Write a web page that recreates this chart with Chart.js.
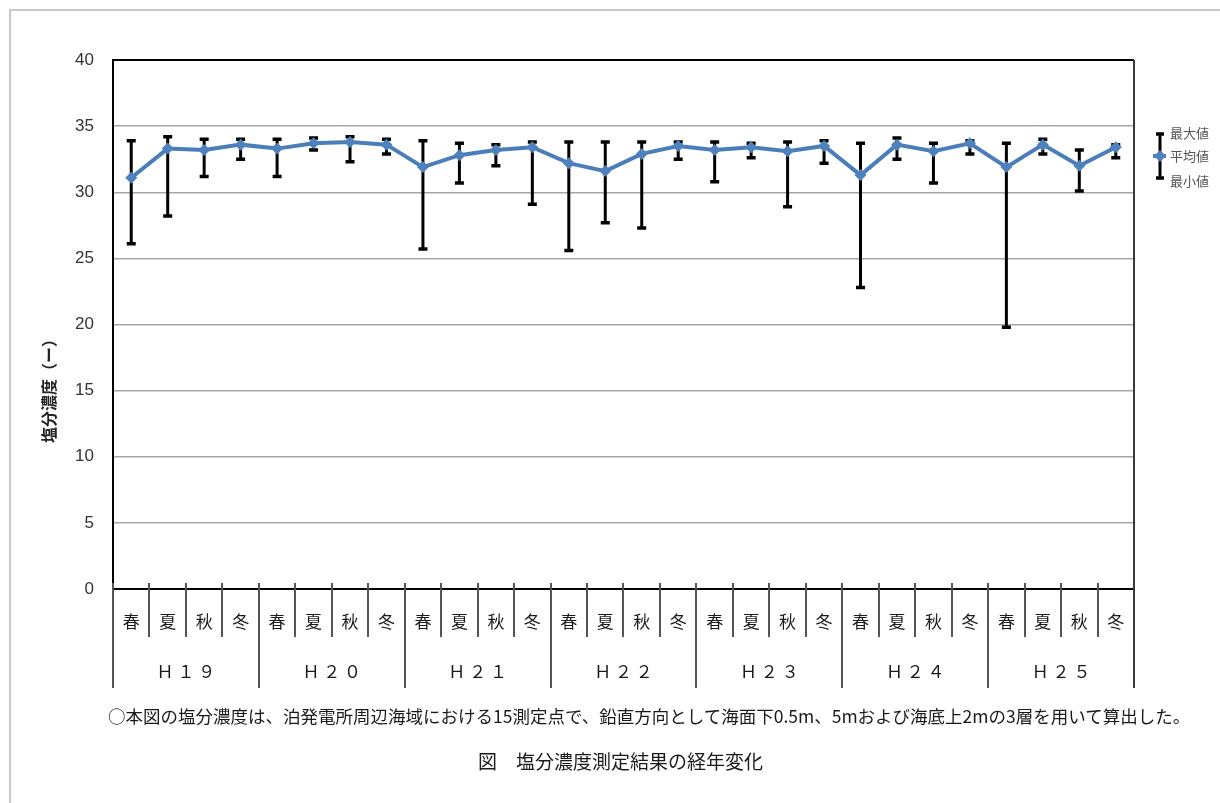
<!DOCTYPE html>
<html><head><meta charset="utf-8">
<script src="https://cdn.jsdelivr.net/npm/chart.js@4.4.1/dist/chart.umd.min.js"></script>
<style>
html,body{margin:0;padding:0;background:#fff;overflow:hidden}
#wrap{position:relative;width:1220px;height:803px;overflow:hidden}
#frame{position:absolute;left:9px;top:9px;width:1400px;height:1000px;border-left:2px solid #c8c8c8;border-top:2px solid #c8c8c8}
#c{position:absolute;left:0;top:0}
.note{position:absolute;white-space:nowrap;font-family:"Noto Sans CJK JP";color:#1a1a1a;line-height:1}
#ytitle{position:absolute;left:48px;top:387px;transform:translate(-50%,-50%) rotate(-90deg);font-family:"Noto Sans CJK JP";font-weight:bold;font-size:16px;line-height:1;white-space:nowrap;color:#222}
</style></head><body>
<div id="wrap">
<div id="frame"></div>
<canvas id="c" width="1220" height="803"></canvas>
<div id="ytitle">塩分濃度（ー）</div>
<div class="note" style="left:108px;top:707px;font-size:17.5px">○本図の塩分濃度は、泊発電所周辺海域における15測定点で、鉛直方向として海面下0.5m、5mおよび海底上2mの3層を用いて算出した。</div>
<div class="note" style="left:478px;top:751px;font-size:19px">図　塩分濃度測定結果の経年変化</div>
</div>
<script>
const years = ['Ｈ１９','Ｈ２０','Ｈ２１','Ｈ２２','Ｈ２３','Ｈ２４','Ｈ２５'];
const seasonNames = ['春','夏','秋','冬'];
const categories = years.flatMap(() => seasonNames);
const meanVals = [31.1, 33.3, 33.2, 33.6, 33.3, 33.7, 33.8, 33.6, 31.9, 32.8, 33.2, 33.4, 32.2, 31.6, 32.9, 33.5, 33.2, 33.4, 33.1, 33.5, 31.3, 33.6, 33.1, 33.7, 31.9, 33.6, 32.0, 33.4];
const maxVals  = [33.9, 34.2, 34.0, 34.0, 34.0, 34.1, 34.2, 34.0, 33.9, 33.7, 33.6, 33.8, 33.8, 33.8, 33.8, 33.8, 33.8, 33.7, 33.8, 33.9, 33.7, 34.1, 33.7, 33.9, 33.7, 34.0, 33.2, 33.6];
const minVals  = [26.1, 28.2, 31.2, 32.5, 31.2, 33.2, 32.3, 32.9, 25.7, 30.7, 32.0, 29.1, 25.6, 27.7, 27.3, 32.5, 30.8, 32.6, 28.9, 32.2, 22.8, 32.5, 30.7, 32.9, 19.8, 32.9, 30.1, 32.6];
const yTicks = [0,5,10,15,20,25,30,35,40];
const legendLabels = ['最大値','平均値','最小値'];

const cjk = '"Noto Sans CJK JP"';
const blue = '#4f81bd';

const deco = {
  id: 'deco',
  beforeDatasetsDraw(chart) {
    const {ctx, scales: {x, y}} = chart;
    ctx.save();
    ctx.strokeStyle = '#000';
    for (let i = 0; i < meanVals.length; i++) {
      const px = x.getPixelForValue(i);
      const pt = y.getPixelForValue(maxVals[i]);
      const pb = y.getPixelForValue(minVals[i]);
      ctx.lineWidth = 3;
      ctx.beginPath(); ctx.moveTo(px, pt); ctx.lineTo(px, pb); ctx.stroke();
      ctx.lineWidth = 3.5;
      ctx.beginPath();
      ctx.moveTo(px - 4.5, pt); ctx.lineTo(px + 4.5, pt);
      ctx.moveTo(px - 4.5, pb); ctx.lineTo(px + 4.5, pb);
      ctx.stroke();
    }
    ctx.restore();
  },
  afterDraw(chart) {
    const {ctx, chartArea, scales: {x, y, x2}} = chart;
    ctx.save();
    const step = x.getPixelForValue(1) - x.getPixelForValue(0);
    const start = x.getPixelForValue(0) - step / 2;
    ctx.strokeStyle = '#555';
    ctx.lineWidth = 2;
    for (let k = 0; k <= categories.length; k++) {
      const bx = Math.round(start + k * step);
      const bottom = (k % seasonNames.length === 0) ? x2.top + 51 : x.bottom;
      ctx.beginPath();
      ctx.moveTo(bx, y.bottom - 6);
      ctx.lineTo(bx, bottom);
      ctx.stroke();
    }
    ctx.strokeStyle = '#3a3a3a';
    ctx.beginPath();
    ctx.moveTo(chartArea.right, chartArea.top);
    ctx.lineTo(chartArea.right, x2.top + 51);
    ctx.stroke();
    // legend
    const lx = chartArea.right + 26;
    const t = chartArea.top;
    ctx.strokeStyle = '#000';
    ctx.lineWidth = 3;
    ctx.beginPath(); ctx.moveTo(lx, t + 74); ctx.lineTo(lx, t + 118); ctx.stroke();
    ctx.lineWidth = 3.5;
    ctx.beginPath();
    ctx.moveTo(lx - 4, t + 74); ctx.lineTo(lx + 4, t + 74);
    ctx.moveTo(lx - 4, t + 118); ctx.lineTo(lx + 4, t + 118);
    ctx.stroke();
    ctx.strokeStyle = '#4a7ebb';
    ctx.lineWidth = 4;
    ctx.beginPath(); ctx.moveTo(lx - 7, t + 96); ctx.lineTo(lx + 6, t + 96); ctx.stroke();
    ctx.fillStyle = blue;
    ctx.beginPath();
    ctx.moveTo(lx, t + 90); ctx.lineTo(lx + 6, t + 96); ctx.lineTo(lx, t + 102); ctx.lineTo(lx - 6, t + 96);
    ctx.closePath(); ctx.fill();
    ctx.fillStyle = '#555';
    ctx.font = '13px ' + cjk;
    ctx.textBaseline = 'middle';
    ctx.textAlign = 'left';
    ctx.fillText(legendLabels[0], lx + 10, t + 73);
    ctx.fillText(legendLabels[1], lx + 10, t + 96);
    ctx.fillText(legendLabels[2], lx + 10, t + 121);
    ctx.restore();
  }
};

new Chart(document.getElementById('c'), {
  type: 'line',
  data: {
    labels: categories,
    datasets: [{
      label: legendLabels[1],
      data: meanVals,
      xAxisID: 'x',
      yAxisID: 'y',
      borderColor: '#4a7ebb',
      borderWidth: 4,
      tension: 0,
      pointStyle: 'rectRot',
      pointRadius: 6,
      pointBorderWidth: 0,
      pointBackgroundColor: blue,
      pointBorderColor: blue
    }]
  },
  options: {
    responsive: false,
    animation: false,
    devicePixelRatio: 1,
    layout: {padding: {left: 0, top: 60, right: 86, bottom: 0}},
    plugins: {legend: {display: false}, tooltip: {enabled: false}},
    scales: {
      y: {
        min: 0, max: 40,
        afterBuildTicks: s => { s.ticks = yTicks.map(v => ({value: v})); },
        afterFit: s => { s.width = 113; },
        grid: {
          drawTicks: false,
          color: c => c.tick && c.tick.value === 40 ? '#000' : (c.tick && c.tick.value === 0 ? 'rgba(0,0,0,0)' : '#a6a6a6'),
          lineWidth: c => c.tick && c.tick.value === 40 ? 2 : 1.5
        },
        border: {display: true, color: '#000', width: 2},
        ticks: {padding: 19, color: '#333', font: {family: '"Liberation Sans"', size: 17}}
      },
      x: {
        type: 'category',
        labels: categories,
        offset: true,
        position: 'bottom',
        afterFit: s => { s.height = 48; },
        grid: {display: false, drawTicks: false},
        border: {display: true, color: '#000', width: 2},
        ticks: {autoSkip: false, maxRotation: 0, padding: 22.5, color: '#1a1a1a', font: {family: cjk, size: 17}}
      },
      x2: {
        type: 'category',
        labels: years,
        offset: true,
        position: 'bottom',
        afterFit: s => { s.height = 803 - 589 - 48; },
        grid: {display: false, drawTicks: false},
        border: {display: false},
        ticks: {autoSkip: false, maxRotation: 0, padding: 24.5, color: '#1a1a1a', font: {family: cjk, size: 17},
          callback: function(v) { return this.getLabelForValue(v).split('').join(' '); }}
      }
    }
  },
  plugins: [deco]
});
</script>
</body></html>
